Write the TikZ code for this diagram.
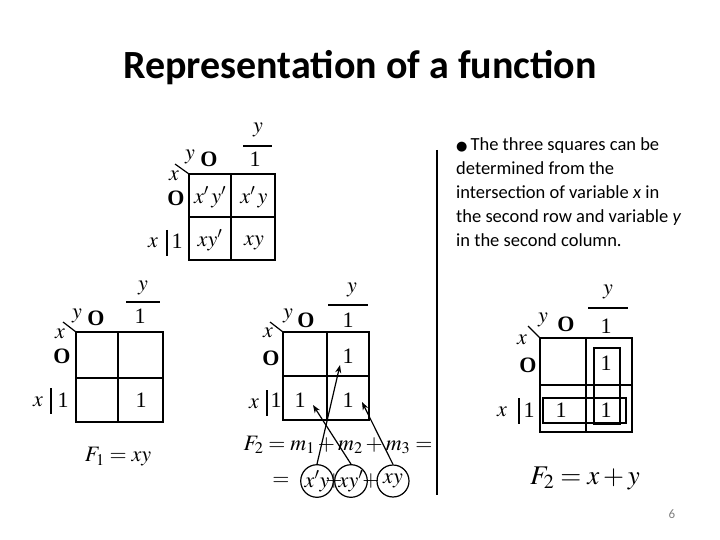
\documentclass[tikz,border=0pt]{standalone}
\usepackage{mathptmx}
\usepackage{fontspec}
\setmainfont{Liberation Serif}
\newfontfamily\calfont{Carlito}
\usetikzlibrary{arrows.meta}
\begin{document}
\begin{tikzpicture}[x=1pt,y=-1pt,
 grid/.style={line width=2.6pt},
 thin/.style={line width=1.2pt},
 lbl/.style={font=\fontsize{22}{22}\selectfont,inner sep=0pt},
 arr/.style={line width=1.2pt,-{Stealth[length=8pt,width=6pt]}}]
\useasboundingbox (0,0) rectangle (720,540);
\node[font=\calfont\bfseries\fontsize{40}{44}\selectfont] (title) at (360,68) {Representation of a function};
% top map
\draw[grid] (189,174) rectangle (275,260);
\draw[thin] (231,174) -- (231,260) (189,217) -- (275,217);
\draw[thin] (175,164) -- (189,174);
\node[lbl] (ty) at (190,157) {$y$};
\node[lbl] (tO) at (209,159) {\textbf{O}};
\node[lbl] (tx) at (174,176) {$x$};
\node[lbl] (tyy) at (258,130) {$y$};
\draw[thin] (243,146) -- (272,146);
\node[lbl] (t1) at (255,159) {1};
\node[lbl] (tr0) at (176,198) {\textbf{O}};
\node[lbl] (tx2) at (153,243) {$x$};
\draw[thin] (167,230) -- (167,256);
\node[lbl] (tr1) at (177,241) {1};
\node[lbl] (c00) at (210,197) {$x'\,y'$};
\node[lbl] (c01) at (254,197) {$x'\,y$};
\node[lbl] (c10) at (210,240) {$xy'$};
\node[lbl] (c11) at (254,243) {$xy$};
% divider
\draw[thin] (437,150) -- (437,495);
\node[font=\calfont\fontsize{18.5}{24}\selectfont,align=left,anchor=north west,inner sep=0pt] (txt) at (456,137)
{{\fontspec{DejaVu Sans}\fontsize{13}{13}\selectfont●}\,The three squares can be\\ determined from the\\ intersection of variable \textit{x} in\\ the second row and variable \textit{y}\\ in the second column.};
% map 2
\draw[grid] (76,332) rectangle (163,422);
\draw[thin] (118,332) -- (118,422) (76,378) -- (163,378);
\draw[thin] (63,322) -- (76,332);
\node[lbl] (ay) at (77,316) {$y$};
\node[lbl] (aO) at (96,318) {\textbf{O}};
\node[lbl] (ax) at (60,334) {$x$};
\node[lbl] (ayy) at (143,288) {$y$};
\draw[thin] (126,302) -- (160,302);
\node[lbl] (a1) at (140,316) {1};
\node[lbl] (ar0) at (62,356) {\textbf{O}};
\node[lbl] (ax2) at (38,402) {$x$};
\draw[thin] (51,388) -- (51,414);
\node[lbl] (ar1) at (63,400) {1};
\node[lbl] (a11) at (141,400) {1};
\node[lbl] (F1) at (118,457) {$F_1 = xy$};
% map 3
\draw[grid] (283,332) rectangle (369,420);
\draw[thin] (327,332) -- (327,420) (283,376) -- (369,376);
\draw[thin] (270,322) -- (283,332);
\node[lbl] (by) at (288,316) {$y$};
\node[lbl] (bO) at (306,320) {\textbf{O}};
\node[lbl] (bx) at (268,333) {$x$};
\node[lbl] (byy) at (352,290) {$y$};
\draw[thin] (328,305) -- (368,305);
\node[lbl] (b1) at (348,320) {1};
\node[lbl] (br0) at (271,358) {\textbf{O}};
\node[lbl] (bx2) at (254,404) {$x$};
\draw[thin] (267,390) -- (267,416);
\node[lbl] (br1) at (276,400) {1};
\node[lbl] (b01) at (348,356) {1};
\node[lbl] (b10) at (300,400) {1};
\node[lbl] (b11) at (348,400) {1};
\node[lbl] (F2) at (338,445) {$F_2 = m_1 + m_2 + m_3 =$};
\node[lbl] (eq) at (281,481) {$=$};
\node[lbl,draw,circle,thin,minimum size=32pt] (m1) at (317,481) {$x'y$};
\node[lbl] (p1) at (334,481) {$+$};
\node[lbl,draw,circle,thin,minimum size=32pt] (m2) at (351,481) {$xy'$};
\node[lbl] (p2) at (371,481) {$+$};
\node[lbl,draw,circle,thin,minimum size=32pt] (m3) at (393,481) {$xy$};
\coordinate (h1) at (340,365);
\coordinate (h2) at (313,405);
\coordinate (h3) at (362,402);
\draw[arr] (m1.north) -- (h1);
\draw[arr] (m2.north) -- (h2);
\draw[arr] (m3.north) -- (h3);
% map 4
\draw[grid] (540,338) rectangle (632,432);
\draw[thin] (586,338) -- (586,432) (540,385) -- (632,385);
\draw[thin] (528,326) -- (540,338);
\node[lbl] (dy) at (543,320) {$y$};
\node[lbl] (dO) at (566,324) {\textbf{O}};
\node[lbl] (dx) at (522,340) {$x$};
\node[lbl] (dyy) at (608,292) {$y$};
\draw[thin] (588,308) -- (628,308);
\node[lbl] (d1) at (606,326) {1};
\node[lbl] (dr0) at (528,365) {\textbf{O}};
\node[lbl] (dx2) at (502,412) {$x$};
\draw[thin] (519,398) -- (519,424);
\node[lbl] (dr1) at (529,410) {1};
\node[lbl] (d01) at (606,363) {1};
\node[lbl] (d10) at (561,410) {1};
\node[lbl] (d11) at (606,410) {1};
\draw[thin] (594,348) rectangle (620,424);
\draw[thin] (543,398) rectangle (626,423);
\node[font=\fontsize{27}{27}\selectfont,inner sep=0pt] (F3) at (585,478) {$F_2 = x + y$};
\node[font=\calfont\fontsize{13}{13}\selectfont,text=gray] (pg) at (672,514) {6};
\end{tikzpicture}
\end{document}
